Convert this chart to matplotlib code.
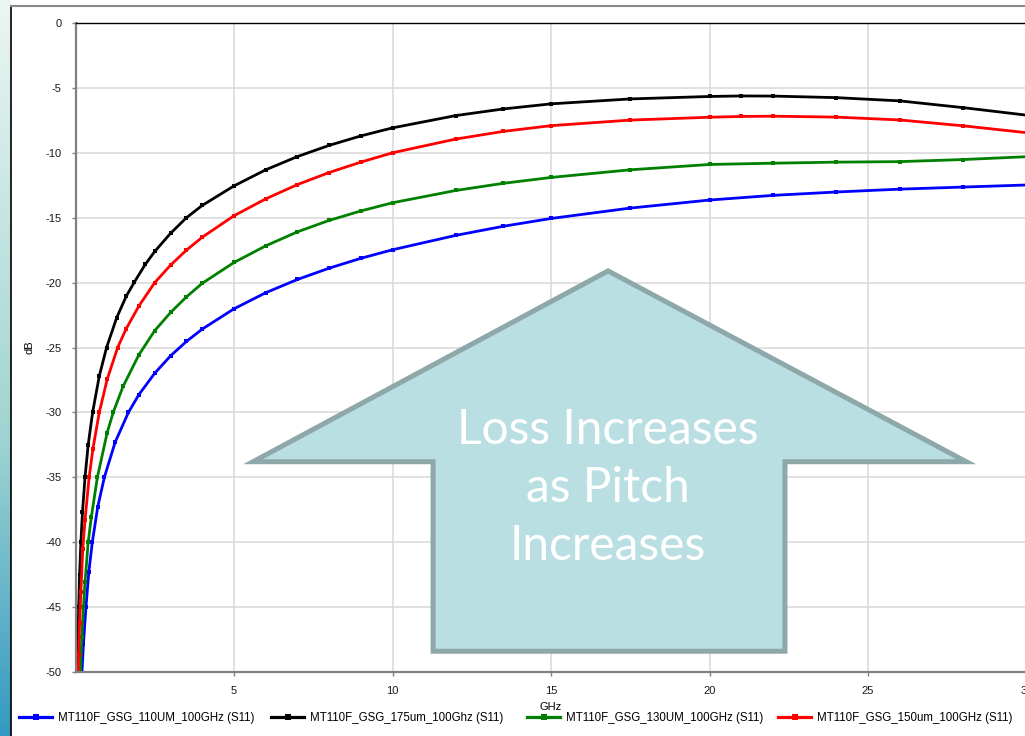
import matplotlib
matplotlib.use("Agg")
import matplotlib.pyplot as plt
import numpy as np
from matplotlib.lines import Line2D
from matplotlib.patches import Polygon

# ---- S11 return-loss data (GHz, dB) ----
f_110 = [0.2, 0.25, 0.33, 0.42, 0.53, 0.7, 0.91, 1.25, 1.67, 2.0, 2.5, 3.0, 3.5, 4.0, 5.0,
         6.0, 7.0, 8.0, 9.0, 10.0, 12.0, 13.5, 15.0, 17.5, 20.0, 22.0, 24.0, 26.0, 28.0, 30.0]
db_110 = [-50.2, -47.86, -45.0, -42.3, -40.0, -37.3, -35.0, -32.3, -30.0, -28.63, -26.98,
          -25.64, -24.53, -23.58, -22.02, -20.78, -19.76, -18.89, -18.13, -17.47, -16.36,
          -15.66, -15.06, -14.26, -13.64, -13.28, -13.02, -12.8, -12.64, -12.48]

f_175 = [0.055, 0.075, 0.10, 0.13, 0.17, 0.22, 0.30, 0.40, 0.54, 0.75, 0.98, 1.3, 1.6, 1.86,
         2.2, 2.5, 3.0, 3.5, 4.0, 5.0, 6.0, 7.0, 8.0, 9.0, 10.0, 12.0, 13.5, 15.0, 17.5, 20.0,
         21.0, 22.0, 24.0, 26.0, 28.0, 30.0]
db_175 = [-50.7, -47.8, -45.0, -42.5, -40.0, -37.7, -35.0, -32.5, -30.0, -27.2, -25.0, -22.7,
          -21.05, -19.95, -18.6, -17.6, -16.2, -15.0, -14.05, -12.55, -11.31, -10.29, -9.43,
          -8.7, -8.08, -7.13, -6.62, -6.23, -5.85, -5.66, -5.62, -5.63, -5.75, -6.0, -6.52,
          -7.1]

f_130 = [0.15, 0.2, 0.25, 0.3, 0.4, 0.5, 0.69, 1.0, 1.19, 1.5, 2.0, 2.5, 3.0, 3.5, 4.0, 5.0,
         6.0, 7.0, 8.0, 9.0, 10.0, 12.0, 13.5, 15.0, 17.5, 20.0, 22.0, 24.0, 26.0, 28.0, 30.0]
db_130 = [-50.3, -47.3, -45.0, -43.1, -40.0, -38.06, -35.0, -31.55, -30.0, -28.0, -25.56,
          -23.7, -22.3, -21.1, -20.05, -18.45, -17.17, -16.09, -15.21, -14.48, -13.85, -12.9,
          -12.35, -11.9, -11.31, -10.9, -10.8, -10.72, -10.68, -10.52, -10.3]

f_150 = [0.08, 0.10, 0.13, 0.17, 0.23, 0.30, 0.43, 0.55, 0.75, 1.0, 1.33, 1.6, 2.0, 2.5, 3.0,
         3.5, 4.0, 5.0, 6.0, 7.0, 8.0, 9.0, 10.0, 12.0, 13.5, 15.0, 17.5, 20.0, 21.0, 22.0,
         24.0, 26.0, 28.0, 30.0]
db_150 = [-50.6, -48.7, -46.2, -43.8, -40.5, -38.3, -35.0, -32.8, -30.0, -27.45, -25.0, -23.55,
          -21.8, -20.0, -18.65, -17.5, -16.5, -14.85, -13.55, -12.45, -11.52, -10.72, -10.0,
          -8.94, -8.35, -7.91, -7.48, -7.26, -7.2, -7.18, -7.25, -7.47, -7.92, -8.45]

series = [
    ("MT110F_GSG_110UM_100GHz (S11)", f_110, db_110, "#0000ff"),
    ("MT110F_GSG_175um_100Ghz (S11)", f_175, db_175, "#000000"),
    ("MT110F_GSG_130UM_100GHz (S11)", f_130, db_130, "#008000"),
    ("MT110F_GSG_150um_100GHz (S11)", f_150, db_150, "#ff0000"),
]

x_ticks = [5, 10, 15, 20, 25, 30]
y_ticks = [0, -5, -10, -15, -20, -25, -30, -35, -40, -45, -50]

# ---- figure ----
W, H = 1025, 736
fig = plt.figure(figsize=(W / 100, H / 100), dpi=100, facecolor="white")
plt.rcParams["font.family"] = ["Liberation Sans", "DejaVu Sans"]

# decorative gradient strip on the left edge
strip = fig.add_axes([0, 0, 11 / W, 1])
c_top = np.array([0.925, 0.965, 0.953])
c_mid = np.array([0.62, 0.83, 0.82])
c_bot = np.array([0.20, 0.60, 0.76])
t = np.linspace(0, 1, 300)[:, None]
grad = np.where(t < 0.6,
                c_top + (c_mid - c_top) * (t / 0.6),
                c_mid + (c_bot - c_mid) * ((t - 0.6) / 0.4))
strip.imshow(grad[:, None, :].repeat(2, axis=1), aspect="auto", extent=[0, 1, 0, 1])
strip.set_axis_off()

# panel frame
fig.add_artist(Line2D([11 / W, 11 / W], [0, 1 - 6 / H], color="black", lw=1.2))
fig.add_artist(Line2D([11 / W, 1], [1 - 6 / H, 1 - 6 / H], color="#8a8a8a", lw=1.5))

# ---- chart axes ----
ax = fig.add_axes([75.5 / W, 1 - 672 / H, 951 / W, 649 / H])
handles = []
for label, fx, dbv, col in series:
    h, = ax.plot(fx, dbv, color=col, lw=2.0, marker="s", ms=2.4, mew=0, label=label,
                 solid_joinstyle="round")
    handles.append(h)

ax.set_xlim(0, 30)
ax.set_ylim(-50, 0)
ax.set_xticks(x_ticks)
ax.set_yticks(y_ticks)
ax.set_xticklabels([str(v) for v in x_ticks])
ax.set_yticklabels([str(v) for v in y_ticks])
ax.grid(True, color="#d8d8d8", lw=1.1)
ax.set_axisbelow(True)
ax.tick_params(axis="both", direction="out", length=3, width=1, color="#808080",
               labelsize=8, labelcolor="#1a1a1a")
ax.tick_params(axis="y", pad=7)
ax.tick_params(axis="x", pad=7)
for s in ("left", "bottom"):
    ax.spines[s].set_color("#808080")
    ax.spines[s].set_linewidth(1.6)
ax.spines["top"].set_color("black")
ax.spines["top"].set_linewidth(1.0)
ax.spines["right"].set_visible(False)
ax.set_xlabel("GHz", fontsize=8, labelpad=4.5)
ax.set_ylabel("dB", fontsize=8, labelpad=8)

# call-out arrow
arrow_pts = [(16.8, -19.1), (28.1, -33.8), (22.38, -33.8), (22.38, -48.4),
             (11.28, -48.4), (11.28, -33.8), (5.6, -33.8)]
ax.add_patch(Polygon(arrow_pts, closed=True, facecolor="#badfe2", edgecolor="#8ea7a8",
                     lw=3.6, joinstyle="miter", zorder=5, clip_on=False))
ax.text(16.8, -35.85, "Loss Increases\nas Pitch\nIncreases", color="white",
        fontsize=34.5, family=["Lato", "DejaVu Sans"], fontweight="normal",
        ha="center", va="center", linespacing=1.39, zorder=6)

# legend: one slot per series on an even grid along the bottom
slot_x = [19, 271, 527, 778]
for h, x0 in zip(handles, slot_x):
    leg = fig.legend(handles=[h], labels=[h.get_label()], loc="center left",
                     bbox_to_anchor=(x0 / W, 1 - 718 / H), frameon=False, fontsize=8.3,
                     handlelength=2.9, handletextpad=0.5, numpoints=1, markerscale=1.8,
                     borderaxespad=0, borderpad=0)
    leg.get_lines()[0].set_linewidth(2.3)

fig.savefig("out.png", dpi=100, facecolor="white")
